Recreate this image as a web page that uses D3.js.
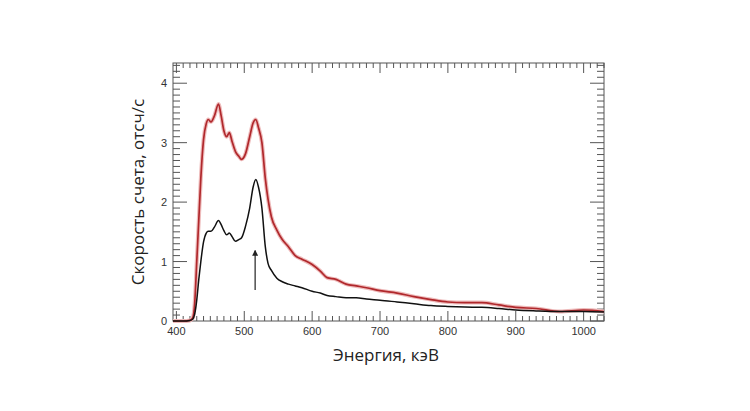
<!DOCTYPE html>
<html>
<head>
<meta charset="utf-8">
<script src="https://cdn.jsdelivr.net/npm/d3@7"></script>
<style>
  body { margin: 0; background: #fff; }
</style>
</head>
<body>
<div id="chart"></div>
<script>
// spectrum
var energy = [395, 410, 420, 424, 427, 430, 433, 436, 440, 444, 447, 451, 456, 462, 466, 470, 474, 478, 482, 487,
  492, 496, 502, 508, 513, 517, 521, 526, 531, 535, 540, 548, 556, 565, 575, 585, 600, 612, 622, 635,
  650, 665, 680, 700, 725, 750, 775, 800, 825, 850, 875, 900, 930, 965, 1000, 1030];

var redRate = [0, 0, 0.01, 0.05, 0.3, 1.0, 1.7, 2.4, 3.05, 3.32, 3.39, 3.35, 3.45, 3.65, 3.45, 3.2, 3.1, 3.17, 3.02, 2.85,
  2.77, 2.72, 2.82, 3.1, 3.33, 3.39, 3.25, 3.0, 2.4, 2.05, 1.75, 1.53, 1.37, 1.25, 1.1, 1.04, 0.95, 0.84, 0.73, 0.7,
  0.62, 0.59, 0.56, 0.51, 0.47, 0.41, 0.36, 0.32, 0.31, 0.31, 0.27, 0.23, 0.21, 0.16, 0.185, 0.16];

var blackRate = [0, 0, 0.01, 0.03, 0.12, 0.35, 0.7, 1.0, 1.33, 1.48, 1.51, 1.51, 1.58, 1.69, 1.62, 1.52, 1.45, 1.48, 1.42, 1.34,
  1.37, 1.4, 1.6, 1.9, 2.25, 2.38, 2.25, 1.9, 1.25, 0.97, 0.85, 0.72, 0.66, 0.62, 0.59, 0.56, 0.5, 0.47, 0.43, 0.41,
  0.39, 0.39, 0.37, 0.35, 0.32, 0.29, 0.26, 0.245, 0.235, 0.23, 0.21, 0.185, 0.17, 0.16, 0.16, 0.15];

var xTicks = [400, 500, 600, 700, 800, 900, 1000];
var yTicks = [0, 1, 2, 3, 4];
var arrowAt = { e: 516, from: 0.52, to: 1.18 };

var width = 750, height = 411;
var plotL = 173, plotR = 604, plotT = 63, plotB = 321;

var svg = d3.select('#chart').append('svg')
  .attr('width', width)
  .attr('height', height);

var x = d3.scaleLinear().domain([395, 1030]).range([plotL, plotR]);
var y = d3.scaleLinear().domain([0, 4.34]).range([plotB, plotT]);

// ticks on all four sides, pointing inward
var xMinor = d3.range(400, 1031, 10);
var yMinor = d3.range(0, 4.34, 0.1);

var tickG = svg.append('g').attr('stroke', '#555').attr('stroke-width', 1);

xMinor.forEach(function(v) {
  var len = (v % 100 === 0) ? 10 : 5;
  tickG.append('line').attr('x1', x(v)).attr('x2', x(v)).attr('y1', plotB).attr('y2', plotB - len);
  tickG.append('line').attr('x1', x(v)).attr('x2', x(v)).attr('y1', plotT).attr('y2', plotT + len);
});

yMinor.forEach(function(v, i) {
  var len = (i % 10 === 0) ? 14 : 7;
  tickG.append('line').attr('y1', y(v)).attr('y2', y(v)).attr('x1', plotL).attr('x2', plotL + len);
  tickG.append('line').attr('y1', y(v)).attr('y2', y(v)).attr('x1', plotR).attr('x2', plotR - len);
});

svg.append('rect')
  .attr('x', plotL).attr('y', plotT)
  .attr('width', plotR - plotL).attr('height', plotB - plotT)
  .attr('fill', 'none').attr('stroke', '#555').attr('stroke-width', 1);

// tick labels
svg.append('g').selectAll('text')
  .data(xTicks).enter().append('text')
  .attr('x', d => x(d))
  .attr('y', plotB + 14)
  .attr('text-anchor', 'middle')
  .style('font', '11px "Liberation Sans", Arial, sans-serif')
  .style('fill', '#333')
  .text(d => d);

svg.append('g').selectAll('text')
  .data(yTicks).enter().append('text')
  .attr('x', plotL - 6)
  .attr('y', d => y(d) + 4)
  .attr('text-anchor', 'end')
  .style('font', '11px "Liberation Sans", Arial, sans-serif')
  .style('fill', '#333')
  .text(d => d);

// axis titles
svg.append('text')
  .attr('x', 386).attr('y', 361)
  .attr('text-anchor', 'middle')
  .style('font', '17px "Open Sans", sans-serif')
  .style('fill', '#222')
  .text('Энергия, кэВ');

svg.append('text')
  .attr('transform', 'translate(144,' + 192 + ') rotate(-90)')
  .attr('text-anchor', 'middle')
  .style('font', '17px "Open Sans", sans-serif')
  .style('fill', '#222')
  .text('Скорость счета, отсч/с');

// curves
var rateLine = d3.line()
  .x((d, i) => x(energy[i]))
  .y(d => y(d))
  .curve(d3.curveMonotoneX);

svg.append('path')
  .attr('d', rateLine(redRate))
  .attr('fill', 'none')
  .attr('stroke', '#eebbbb')
  .attr('stroke-width', 4);

svg.append('path')
  .attr('d', rateLine(redRate))
  .attr('fill', 'none')
  .attr('stroke', '#b0282c')
  .attr('stroke-width', 1.7);

svg.append('path')
  .attr('d', rateLine(blackRate))
  .attr('fill', 'none')
  .attr('stroke', '#111')
  .attr('stroke-width', 1.5);

// arrow marking the 511 keV line
svg.append('defs').append('marker')
  .attr('id', 'head')
  .attr('viewBox', '0 0 10 10')
  .attr('refX', 8).attr('refY', 5)
  .attr('markerWidth', 5).attr('markerHeight', 5)
  .attr('orient', 'auto')
  .append('path')
  .attr('d', 'M0,0 L10,5 L0,10 z')
  .attr('fill', '#222');

svg.append('line')
  .attr('x1', x(arrowAt.e)).attr('x2', x(arrowAt.e))
  .attr('y1', y(arrowAt.from)).attr('y2', y(arrowAt.to))
  .attr('stroke', '#222')
  .attr('stroke-width', 1.2)
  .attr('marker-end', 'url(#head)');
</script>
</body>
</html>
